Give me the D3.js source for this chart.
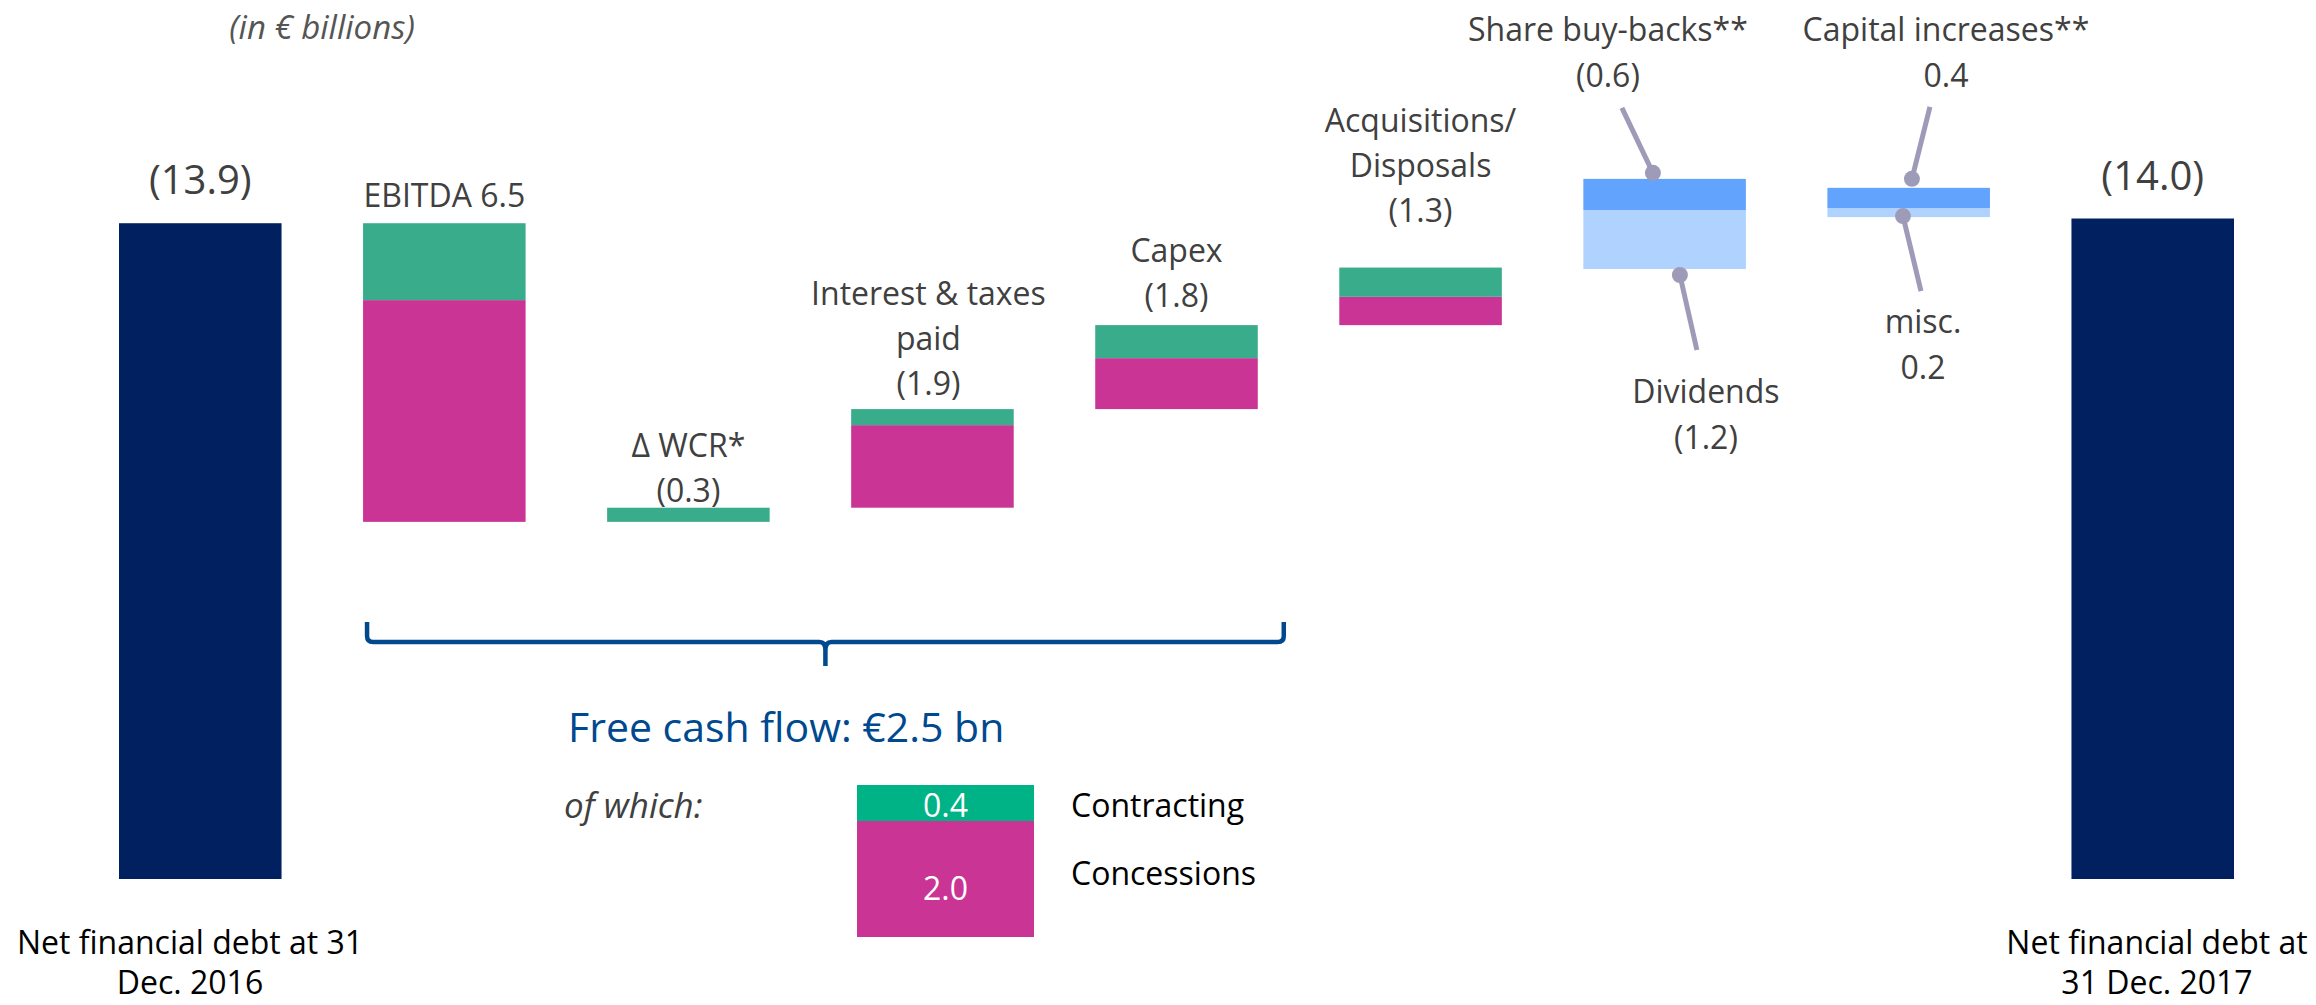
<!doctype html>
<html lang="en">
<head>
<meta charset="UTF-8">
<title>Net financial debt bridge 2016-2017</title>
<script src="https://d3js.org/d3.v7.min.js"></script>
<style>
    body { margin: 0; background: #fff; }
    svg text { font-family: 'Open Sans', sans-serif; }
</style>
</head>
<body>
<div id="chart-area"></div>

<script>
// steps of the bridge, left to right
const steps = ['debt2016', 'ebitda', 'wcr', 'interest', 'capex', 'acquisitions', 'shareholders', 'capital', 'debt2017'];

// where each floating bar starts (in € bn)
const barBase = [0, 7.57, 7.57, 7.87, 9.96, 11.74, 12.93, 14.03, 0];

// stacked pieces of each bar, bottom to top
const netDebt     = [13.9, 0, 0, 0, 0, 0, 0, 0, 14.0];
const concessions = [0, 4.70, 0, 1.75, 1.08, 0.60, 0, 0, 0];
const contracting = [0, 1.63, 0.30, 0.34, 0.70, 0.62, 0, 0, 0];
const lowerBlue   = [0, 0, 0, 0, 0, 0, 1.25, 0.19, 0];   // dividends, misc.
const upperBlue   = [0, 0, 0, 0, 0, 0, 0.66, 0.43, 0];   // share buy-backs, capital increases

const topLabels = [
    ['(13.9)'],
    ['EBITDA 6.5'],
    ['\u0394 WCR*', '(0.3)'],
    ['Interest & taxes', 'paid', '(1.9)'],
    ['Capex', '(1.8)'],
    ['Acquisitions/', 'Disposals', '(1.3)'],
    [],
    [],
    ['(14.0)']
];
const bottomLabels = [
    ['Net financial debt at 31', 'Dec. 2016'],
    ['Net financial debt at', '31 Dec. 2017']
];

const fcfLabel = 'Free cash flow: \u20ac2.5 bn';
const fcfSplit = ['0.4', '2.0'];
const fcfNames = ['Contracting', 'Concessions'];

const W = 2316, H = 1005;
const grey = '#404040';
const colors = {
    netDebt: '#002060',
    concessions: '#CA3495',
    contracting: '#39AC8B',
    lowerBlue: '#B0D2FE',
    upperBlue: '#62A3FD'
};

const svg = d3.select('#chart-area')
    .append('svg')
    .attr('width', W)
    .attr('height', H);

const x = d3.scaleBand()
    .domain(steps)
    .range([119, 2234])
    .paddingInner(0.334)
    .paddingOuter(0);

const y = d3.scaleLinear()
    .domain([0, 14])
    .range([879, 218.5]);

const rows = steps.map((s, i) => ({
    step: s,
    netDebt: netDebt[i],
    concessions: concessions[i],
    contracting: contracting[i],
    lowerBlue: lowerBlue[i],
    upperBlue: upperBlue[i]
}));

const keys = ['netDebt', 'concessions', 'contracting', 'lowerBlue', 'upperBlue'];
const stacked = d3.stack().keys(keys)(rows);

const tops = rows.map((r, i) => barBase[i] + d3.sum(keys, k => r[k]));

// bars
svg.append('g')
    .selectAll('g')
    .data(stacked)
    .join('g')
    .attr('fill', s => colors[s.key])
    .selectAll('rect')
    .data(s => s.filter(d => d[1] - d[0] > 0))
    .join('rect')
    .attr('x', d => x(d.data.step))
    .attr('y', d => y(d[1] + barBase[steps.indexOf(d.data.step)]))
    .attr('width', x.bandwidth())
    .attr('height', d => y(d[0]) - y(d[1]));

// labels above bars
const labelGap = [29, 16, 6, 14, 18, 46, 0, 0, 29];
const lineH = 45;
topLabels.forEach((lines, i) => {
    const big = i === 0 || i === steps.length - 1;
    const last = y(tops[i]) - labelGap[i];
    lines.forEach((t, j) => {
        svg.append('text')
            .attr('x', x(steps[i]) + x.bandwidth() / 2 - (i === 3 ? 4 : 0))
            .attr('y', last - (lines.length - 1 - j) * lineH)
            .attr('text-anchor', 'middle')
            .attr('font-size', big ? 40 : 32)
            .attr('fill', grey)
            .text(t);
    });
});

// connectors for the blue bars
const notes = [
    { i: 6, fx: 0.428, edge: 'top', dy: -6, ex: -31, ey: -65, lx: -45, ly: -132, lines: ['Share buy-backs**', '(0.6)'] },
    { i: 6, fx: 0.594, edge: 'base', dy: 6, ex: 17, ey: 75, lx: 26, ly: 128, lines: ['Dividends', '(1.2)'] },
    { i: 7, fx: 0.52, edge: 'top', dy: -9, ex: 18, ey: -72, lx: 34, ly: -138, lines: ['Capital increases**', '0.4'] },
    { i: 7, fx: 0.465, edge: 'base', dy: -1, ex: 18, ey: 75, lx: 20, ly: 117, lines: ['misc.', '0.2'] }
];
const nGroup = svg.append('g');
notes.forEach(n => {
    const cx = x(steps[n.i]) + x.bandwidth() * n.fx;
    const cy = (n.edge === 'top' ? y(tops[n.i]) : y(barBase[n.i])) + n.dy;
    nGroup.append('line')
        .attr('x1', cx).attr('y1', cy)
        .attr('x2', cx + n.ex).attr('y2', cy + n.ey)
        .attr('stroke', '#9D9BB7')
        .attr('stroke-width', 5);
    nGroup.append('circle')
        .attr('cx', cx).attr('cy', cy)
        .attr('r', 8)
        .attr('fill', '#9D9BB7');
    n.lines.forEach((t, j) => {
        nGroup.append('text')
            .attr('x', cx + n.lx)
            .attr('y', cy + n.ly + j * 46)
            .attr('text-anchor', 'middle')
            .attr('font-size', 32)
            .attr('fill', grey)
            .text(t);
    });
});

// bottom labels under the two debt bars
[[0, 190], [8, 2157]].forEach(([i, cx], k) => {
    bottomLabels[k].forEach((t, j) => {
        svg.append('text')
            .attr('x', cx)
            .attr('y', 954 + j * 40)
            .attr('text-anchor', 'middle')
            .attr('font-size', 32)
            .attr('fill', '#000')
            .text(t);
    });
});

// unit note
svg.append('text')
    .attr('x', 322)
    .attr('y', 39)
    .attr('text-anchor', 'middle')
    .attr('font-size', 33)
    .attr('font-style', 'italic')
    .attr('fill', '#555')
    .text('(in \u20ac billions)');

// brace under the free cash flow items
const bx0 = x('ebitda') + 4;
const bx1 = x('capex') + x.bandwidth() + 26;
const bm = (bx0 + bx1) / 2;
const bt = 622, bl = 642;
svg.append('path')
    .attr('d', `M${bx0},${bt} L${bx0},${bl - 6} Q${bx0},${bl} ${bx0 + 6},${bl}`
        + ` L${bm - 6},${bl} Q${bm},${bl} ${bm},${bl + 8} L${bm},${bl + 24}`
        + ` M${bm},${bl + 8} Q${bm},${bl} ${bm + 6},${bl} L${bx1 - 6},${bl}`
        + ` Q${bx1},${bl} ${bx1},${bl - 6} L${bx1},${bt}`)
    .attr('fill', 'none')
    .attr('stroke', '#00498F')
    .attr('stroke-width', 4.5);

svg.append('text')
    .attr('x', 568)
    .attr('y', 742)
    .attr('font-size', 41)
    .attr('fill', '#00498F')
    .text(fcfLabel);

svg.append('text')
    .attr('x', 564)
    .attr('y', 818)
    .attr('font-size', 35)
    .attr('font-style', 'italic')
    .attr('fill', grey)
    .text('of which:');

// split of the free cash flow
const legendBoxes = [
    { y: 785, h: 36, fill: '#00B386', ty: 817, ny: 817 },
    { y: 821, h: 116, fill: '#CA3495', ty: 900, ny: 885 }
];
legendBoxes.forEach((b, i) => {
    svg.append('rect')
        .attr('x', 857).attr('y', b.y)
        .attr('width', 177).attr('height', b.h)
        .attr('fill', b.fill);
    svg.append('text')
        .attr('x', 945.5).attr('y', b.ty)
        .attr('text-anchor', 'middle')
        .attr('font-size', 32)
        .attr('fill', '#fff')
        .text(fcfSplit[i]);
    svg.append('text')
        .attr('x', 1071).attr('y', b.ny)
        .attr('font-size', 32)
        .attr('fill', '#000')
        .text(fcfNames[i]);
});
</script>

</body>
</html>
